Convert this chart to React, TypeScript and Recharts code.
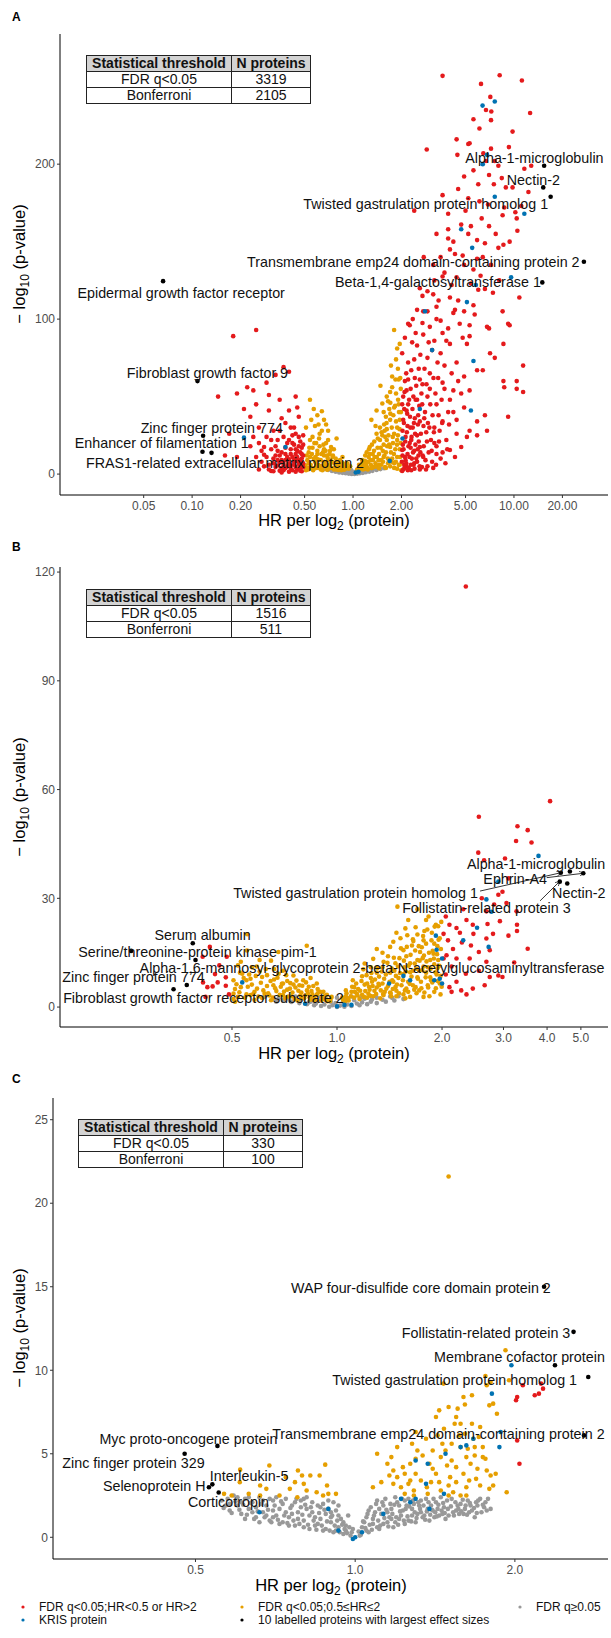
import React from 'react';
import { ScatterChart, Scatter, XAxis, YAxis, ReferenceLine } from 'recharts';

const FONT = '"Liberation Sans", Arial, Helvetica, sans-serif';
const RED = '#E41A1C';
const ORANGE = '#E69F00';
const BLUE = '#0072B2';
const GRAY = '#999999';
const BLACK = '#000000';

// ---------- panel A: HR, -log10 p ----------
const aGray = [[0.62,4],[0.66,3.2],[0.7,2.6],[0.74,2],[0.78,1.5],[0.82,1.1],[0.86,0.8],[0.9,0.5],[0.94,0.3],[0.98,0.1],[1.02,0.1],[1.06,0.3],[1.1,0.5],[1.15,0.8],[1.2,1.2],[1.26,1.6],[1.32,2.1],[1.4,2.6],[1.48,3.2],[1.56,3.8],[0.68,4.1],[0.75,3.5],[0.8,3],[0.85,2.4],[0.9,2],[0.95,1.6],[1,1.4],[1.05,1.5],[1.1,1.9],[1.17,2.4],[1.25,3],[1.35,3.6],[0.88,3.4],[0.97,2.8],[1.08,3],[1.2,3.5]];
const aOrange = [[0.54,48],[0.64,40.5],[0.68,32],[0.79,23],[0.58,31],[0.62,26],[0.73,17.5],[0.86,11],[0.6,13],[0.65,5],[0.54,22],[0.52,9],[0.79,7],[0.96,5],[0.56,17],[0.58,8],[0.62,18],[0.66,12],[0.7,9],[0.75,12],[0.82,7],[0.7,22],[0.55,35],[0.64,28],[0.53,14],[0.57,3.5],[0.61,6],[0.68,4.5],[0.72,6],[0.77,4],[0.84,4],[0.9,3.5],[0.92,7],[0.51,30],[0.59,20],[0.66,16],[0.52,4],[0.54,11],
  [0.51,2.5],[0.53,7],[0.55,4],[0.57,10],[0.59,6],[0.6,15],[0.63,3],[0.63,9],[0.65,14],[0.67,7],[0.69,2.8],[0.69,12],[0.71,4],[0.72,15],[0.74,8],[0.76,3],[0.78,10],[0.8,5],[0.81,2.6],[0.83,9],[0.86,5.5],[0.88,2.8],[0.91,4.8],[0.94,3.5],[0.56,24],[0.61,32],[0.6,38],[0.68,20],[0.76,16],[0.57,42],[0.66,35],[0.7,28],
  [0.505,5.5],[0.515,12],[0.525,3],[0.535,17],[0.545,6],[0.555,13],[0.565,2.5],[0.575,20],[0.585,11],[0.595,4],[0.605,9.5],[0.615,23],[0.625,5],[0.635,13],[0.645,2.5],[0.655,19],[0.665,8],[0.675,15],[0.685,6],[0.695,10.5],[0.705,3.5],[0.715,13],[0.725,8.5],[0.735,4],[0.745,11],[0.765,7],[0.785,3],[0.805,8],[0.825,5],[0.845,2.5],[0.865,7],[0.895,5],
  [1.8,93],[1.88,81],[1.72,70],[1.75,63],[1.92,61],[1.48,57],[1.7,53],[1.62,50],[1.4,41],[1.52,45.5],[1.8,43],[1.3,35],[1.56,32],[1.7,35],[1.4,26],[1.62,22],[1.88,30],[1.27,17.5],[1.45,13],[1.7,17.5],[1.88,11],[1.21,7],[1.4,5],[1.7,5],[1.88,22],[1.8,26],[1.1,4.5],[1.15,7],[1.25,11],[1.33,9],[1.35,15],[1.5,9],[1.55,19],[1.6,14],[1.65,7],[1.75,10],[1.8,4],[1.95,6],[1.95,16],[1.52,25],[1.62,29],[1.78,38],[1.92,45],[1.68,42],[1.85,52],[1.95,35],[1.3,4],[1.2,3.5],[1.45,3.8],[1.58,4.5],[1.9,68],[1.6,37],[1.47,30],
  [1.06,3],[1.09,6],[1.12,3.5],[1.14,9],[1.17,5],[1.19,12],[1.22,4.5],[1.24,8],[1.27,13],[1.29,6],[1.31,19],[1.34,4.5],[1.36,11],[1.38,7],[1.42,17],[1.44,9],[1.47,22],[1.5,6],[1.53,15],[1.55,11],[1.57,28],[1.6,4],[1.63,18],[1.66,25],[1.68,9],[1.72,14],[1.74,30],[1.77,20],[1.8,7],[1.83,16],[1.85,34],[1.88,3.5],[1.9,25],[1.93,40],[1.96,11],[1.98,55],[1.55,40],[1.65,47],[1.75,56],[1.85,74],[1.95,84],[1.38,31],
  [1.075,2.5],[1.105,5],[1.135,6.5],[1.155,3],[1.185,8.5],[1.215,14],[1.235,3],[1.255,16],[1.285,9],[1.305,4],[1.325,13],[1.355,21],[1.375,5],[1.405,11],[1.425,23],[1.455,6],[1.485,17],[1.505,27],[1.535,8],[1.565,12],[1.585,24],[1.615,33],[1.645,10],[1.675,19],[1.705,39],[1.735,8],[1.765,24],[1.795,13],[1.825,44],[1.845,8],[1.875,19],[1.905,48],[1.925,6],[1.945,29],[1.975,20],[1.99,2.5],[1.985,40],[1.965,62],[1.835,61],[1.705,46]];
const aRed = [[3.6,257],[8.15,257.4],[6.24,251.8],[11.2,254],[7.13,243.4],[6.7,235],[7.23,234],[12.6,233],[7.2,228.4],[4.4,216],[5.3,213.5],
  [2.87,209.5],[5.2,213],[4.45,206],[6.45,207],[7.2,210],[9.3,211],[6.7,202],[7.6,202],[8,199],[7,193],[8.4,191],[11.6,197],[12.8,199],[6,187],[7.5,187],[4.5,184],[9.8,185],[12.3,182],[5.2,178],[6.1,176],[5,170],[3.9,168],[2.4,170],[6.9,174],[8.7,172],[10.2,169],[11.1,173],[10.4,165],[8.5,167],[4.7,161],[3.9,158],[7,160],[3.9,152],[5.9,151],[6.6,149],[9.4,150],[10.5,157],[4,145],[8,146],[8.6,148],[4.3,142],[4.8,141],[5.9,139],[3.15,135],[3.7,130],[4.4,127],[3.6,127.5],[5.4,123],[6,119],[6.6,119.5],[7.4,117],[8.5,105],[10.8,114],[2.7,115],[3.15,116],[3.4,112],[4,114],[4.3,106],[4.9,105],[5.7,103],[2.5,106],[2.9,105],[2.2,97],[3.5,99],[5.3,96],[7,94],[9.2,97],
  [2.73,105],[3.3,108],[4.2,104],[5.6,109],[2.25,96],[2.7,97.5],[3,95],[3.6,91],[4.6,97],[5.3,89],[2.45,91],[2.73,90],[3.2,86],[4,84],[5.1,84],[2.02,78],[2.4,74],[2.9,75],[3.5,78],[4.4,72],[5.9,67],[6.8,95],[9.4,96],[8.6,84],[11.4,70],[10.4,60],[11.4,53],[8.6,60],[8.7,56],[10.4,55],[9.2,37],[6.6,38],[7.6,75],[6.4,67],[7.1,78],[2.3,67],[2.6,61],[3,65],[3.6,59],[4.2,54],[4.9,63],[5.3,54],[2.15,54],[2.45,48],[2.9,50],[3.3,45],[4,48],[4.9,43],[5.9,34],[5.3,28],[4.4,26],[3.6,34],[3.2,30],[2.6,34],[2.15,41],[2.03,28],[2.3,22],[2.6,17.5],[3.2,20],[3.8,22],[4.7,17.5],[5.1,24],[2.1,11],[2.4,7],[2.73,11],[3.3,13],[4,15.5],[2.9,5],[2.15,5],[2.02,15.5],[5.9,25],[6.8,28],
  [2.05,35],[2.2,45],[2.35,30],[2.5,25],[2.8,40],[3,55],[2.1,60],[2.25,20],[2.55,12],[2.85,27],[3.4,38],[3.9,40],[2.05,3],[2.3,2.5],[2.6,3],[3.1,8],[3.5,10],[2.4,15],[2.7,58],[2.2,72],[2.05,50],[3.7,70],[4.5,60],[3.1,80],[2.5,83],[4.8,88],[2.35,100],[3.9,94],[4.5,112],[2.6,120],[3.2,125],[5.6,132],[6.4,140],[7.7,155],[5.4,160],[6.3,165],
  [2.02,2],[2.08,6],[2.12,9],[2.18,13],[2.22,4],[2.28,17],[2.32,10],[2.38,6],[2.44,19],[2.5,8],[2.56,21],[2.62,14],[2.68,4.5],[2.75,18],[2.82,9],[2.95,14],[3.05,22],[3.15,4],[3.3,18],[3.45,28],[3.6,14],[3.75,7],[2.04,19],[2.12,24],[2.18,31],[2.26,37],[2.34,42],[2.42,36],[2.5,48],[2.58,44],[2.66,52],[2.74,31],[2.92,33],[3.02,45],[3.12,38],[3.25,52],[3.38,62],[3.55,48],[3.7,55],[3.95,32],[4.2,40],[4.4,35],[2.08,42],[2.14,65],[2.28,55],[2.42,62],[2.56,68],[2.62,77],[2.78,68],[2.95,85],[3.35,72],[4.1,65],[4.7,52],[3.8,86],[2.33,85],[2.1,88],[3.3,100],[2.9,118],[4.1,122],[3.5,140],[4.9,135],[4.2,150],[2.75,140],[3.3,155],[5.2,155],[6.2,128],[7.2,135],[8.1,125],[3.6,180],[4.9,192],[5.6,196],[6.1,223],[8.9,185],[9.8,221],[5.6,229],
  [2.01,8],[2.03,12],[2.06,16],[2.09,4],[2.11,21],[2.14,7],[2.16,27],[2.19,2.5],[2.21,18],[2.24,11],[2.27,30],[2.29,6],[2.31,24],[2.36,14],[2.39,33],[2.41,3.5],[2.43,26],[2.47,10],[2.52,16],[2.54,38],[2.59,5],[2.64,26],[2.71,12],[2.77,36],[2.84,3],[2.88,21],[2.98,30],[3.08,15],[3.18,27],[3.28,6],[3.42,21],[3.58,33],[3.85,16],[4.3,11],[2.07,33],[2.17,39],[2.23,48],[2.37,50],[2.47,57],[2.53,32],[2.69,45],[2.86,58],[3.16,62],[2.02,45],[2.09,53],[2.2,61],
  [0.18,89],[0.25,93],[0.37,69],[0.4,66],[0.33,64],[0.29,59],[0.22,56],[0.19,52],[0.24,54],[0.145,50],[0.3,51],[0.35,48],[0.44,50],[0.25,45],[0.21,42],[0.3,41],[0.4,41],[0.36,36],[0.23,37],[0.17,26],[0.16,12],[0.19,11],[0.24,24],[0.28,17.5],[0.29,11],[0.34,22],[0.41,30],[0.44,13],[0.38,9],[0.46,37],[0.32,28],[0.26,30],[0.4,22],[0.44,26],[0.48,17],[0.35,12],[0.4,7],[0.48,5],[0.28,12.5],[0.32,7],[0.42,11],[0.38,17],[0.31,22],[0.45,3],[0.36,4],[0.27,8],[0.47,9],[0.43,19],[0.49,25],
  [0.31,2],[0.33,4.5],[0.35,7.5],[0.37,2.5],[0.39,5],[0.41,3.5],[0.43,6],[0.45,8.5],[0.47,4],[0.49,7],[0.3,6],[0.32,10],[0.34,15],[0.36,9],[0.38,13],[0.39,20],[0.41,16],[0.43,10],[0.45,15],[0.47,21],[0.49,12],[0.46,18],[0.42,25],[0.37,24],[0.33,18],[0.29,24],[0.27,15],[0.25,11],[0.23,18],[0.26,20],[0.44,1.5],[0.48,1.8],[0.4,1.5],[0.36,1],[0.47,14],[0.43,30],[0.38,33],[0.45,43],[0.35,28],
  [0.3,3],[0.32,1.8],[0.34,5.5],[0.35,2.2],[0.37,6.5],[0.38,3.8],[0.4,9.5],[0.41,5.5],[0.42,2.5],[0.43,8],[0.44,4.5],[0.45,11],[0.46,6.5],[0.47,2.2],[0.48,10],[0.49,4.5],[0.46,24],[0.42,20],[0.39,11],[0.36,14],[0.33,12],[0.31,16],[0.28,5],[0.26,3],[0.34,9],[0.48,13],[0.49,19],[0.44,16],[0.41,13]];
const aBlue = [[0.21,23.5],[0.38,17.5],[1.04,1],[1.08,1.5],[1.69,8.5],[2.03,23],[2.6,42],[3.1,80],[5.6,73],[5.4,41],[2.8,105],[5.1,111],[6.8,206],[6.4,200],[7.6,179],[11.6,168],[4.7,158],[5.5,146],[9.6,127],[5.8,122],[7.6,240.4],[6.38,237.8]];
const aBlack = [[0.066,124.5],[0.108,60],[0.117,24.7],[0.116,14.4],[0.132,13.7],[15.4,199],[15.2,185],[16.9,179],[27.2,137],[15,123.7]];
const aLabels: [string, number, number][] = [
  ['Epidermal growth factor receptor', 0.0855, 116.6],
  ['Fibroblast growth factor 9', 0.1245, 65.4],
  ['Zinc finger protein 774', 0.1325, 29.9],
  ['Enhancer of filamentation 1', 0.0648, 19.8],
  ['FRAS1-related extracellular matrix protein 2', 0.16, 7.3],
  ['Alpha-1-microglobulin', 13.4, 203.7],
  ['Nectin-2', 13.2, 190],
  ['Twisted gastrulation protein homolog 1', 2.83, 174.2],
  ['Transmembrane emp24 domain-containing protein 2', 2.37, 136.9],
  ['Beta-1,4-galactosyltransferase 1', 3.37, 123.7],
];

// ---------- panel B ----------
const bGray = [[0.66,2.2],[0.7,1.8],[0.74,1.4],[0.78,1.1],[0.82,0.8],[0.86,0.5],[0.9,0.3],[0.95,0.1],[1,0],[1.05,0.1],[1.1,0.3],[1.16,0.5],[1.22,0.8],[1.3,1.1],[1.38,1.5],[1.46,1.8],[1.55,2.2],[0.72,2.6],[0.8,2.4],[0.88,1.9],[0.96,1.5],[1.04,1.5],[1.12,1.9],[1.2,2.3],[1.3,2.6],[1.42,2.9],[0.9,2.8],[1,2.6],[1.1,2.9],[0.84,1.5],[1.18,1.3],[0.76,2.9],[1.5,3],[0.62,2.8],
  [0.68,2.4],[0.73,2],[0.78,1.8],[0.83,1.3],[0.87,1],[0.92,0.7],[0.97,0.5],[1.02,0.4],[1.07,0.7],[1.14,1],[1.25,1.5],[1.35,2],[1.44,2.5],[0.93,2.2],[1.06,2.2],[1.17,2.6],[1.26,2.1],[0.99,1.1],[0.84,2.6],[0.67,1.5]];
const bOrange = [[1.49,27.7],[0.553,20.1],[0.819,16.9],[0.679,15.2],[0.647,12.8],[0.552,15.6],[1.57,21.7],[1.48,20.5],[1.92,22.7],[1.95,22.3],[1.65,18.7],[1.77,18.4],[1.9,17.5],[1.42,16.6],[1.55,15.7],[1.73,15.2],[1.89,14.7],[1.27,13.3],[1.36,12.5],[1.47,12.1],[1.62,12.1],[1.77,11.2],[1.94,10.7],[1.19,10.4],[1.3,9.5],[1.42,9.5],[1.55,9.1],[1.7,8.2],[1.86,7.4],[1.97,6.5],[1.11,7.4],[1.22,6.5],[1.32,6],[1.47,5.5],[1.58,5.1],[1.72,4.6],[1.9,4.2],[1.06,4.6],[1.14,3.7],[1.23,3.7],[1.36,3.3],[1.48,3],[1.62,2.8],[1.77,2.8],
  [0.589,11.2],[0.527,9.5],[0.505,7.4],[0.55,7.4],[0.61,8.3],[0.68,9.2],[0.75,8.7],[0.8,7.4],[0.875,6.5],[0.53,5.5],[0.59,5.1],[0.657,6],[0.733,5.1],[0.82,4.6],[0.914,4.2],[0.565,3.3],[0.62,3.7],[0.7,3.3],[0.79,2.8],[0.505,3.7],[0.914,2.3],[0.647,1.9],
  [1.25,8],[1.35,11],[1.45,7],[1.6,7],[1.65,10],[1.8,9.5],[1.85,13],[1.4,14],[1.7,13],[1.52,19],[1.6,24],[1.78,21],[1.83,25],[1.7,27],[1.12,5.5],[1.18,8.5],[1.28,4.5],[1.42,4],[1.55,3.5],[1.68,5.5],[1.82,6],[1.98,3.5],[1.93,9],[1.75,16.5],[1.2,12],[1.3,16],
  [0.56,9],[0.6,13],[0.66,10.5],[0.7,6.5],[0.75,6.2],[0.85,3.5],[0.88,5],[0.52,11.5],[0.51,1.5],[0.58,2],
  [0.51,5],[0.52,2.8],[0.54,8],[0.55,3.5],[0.57,6.2],[0.58,4.2],[0.6,9.8],[0.61,2.5],[0.63,5.8],[0.64,3.2],[0.66,7.6],[0.67,4.4],[0.69,5.6],[0.71,2.4],[0.72,4.8],[0.74,3],[0.76,5.4],[0.77,1.8],[0.79,4],[0.81,3.2],[0.83,5.6],[0.84,2],[0.86,2.6],[0.88,3.8],[0.9,1.8],[0.92,3],[0.94,1.6],[0.96,2.4],[0.53,12.5],[0.57,11],[0.63,8.8],[0.7,10],[0.72,7.2],[0.78,6],[0.84,8],
  [0.505,2.2],[0.515,6.3],[0.525,4.1],[0.535,9.2],[0.545,2.6],[0.555,5.6],[0.565,7.8],[0.575,3.6],[0.585,8.6],[0.595,2.9],[0.605,6.7],[0.615,4.6],[0.625,10.5],[0.635,3.8],[0.645,7.2],[0.655,2.6],[0.665,5.2],[0.675,8.1],[0.685,3.4],[0.695,6.4],[0.705,4.3],[0.715,8.8],[0.725,2.9],[0.735,6.6],[0.745,4],[0.755,2.2],[0.765,7.3],[0.775,4.5],[0.785,3.2],[0.795,5.9],[0.805,2.4],[0.815,6.8],[0.825,3.7],[0.835,2.7],[0.845,4.4],[0.855,5.8],[0.865,1.9],[0.875,3.3],[0.895,4.2],[0.905,2.7],[0.925,2],[0.935,3.4],[0.955,1.7],[0.965,2.8],
  [1.04,2],[1.06,3],[1.08,1.8],[1.1,4.2],[1.12,2.6],[1.15,5],[1.16,2.2],[1.18,3.4],[1.2,6.2],[1.22,2.6],[1.24,4.8],[1.26,7],[1.27,3],[1.3,5.4],[1.32,8.4],[1.33,2.4],[1.35,6.5],[1.37,4.2],[1.38,9],[1.4,5.8],[1.43,3],[1.44,7.4],[1.46,10],[1.48,4.5],[1.5,8],[1.51,13.5],[1.53,6],[1.56,11],[1.57,2.4],[1.58,14],[1.6,4.2],[1.62,9.6],[1.64,17],[1.65,6],[1.67,12],[1.69,3.8],[1.7,20],[1.72,10],[1.74,7],[1.76,13.5],[1.78,4],[1.8,17.5],[1.82,11],[1.84,3],[1.85,8.2],[1.87,20.5],[1.88,15.5],[1.9,11.8],[1.92,5.2],[1.94,16.8],[1.95,13],[1.97,19],[1.98,8.6],[1.99,23.5],[1.45,18],[1.35,15],[1.25,11],[1.59,19.8],[1.68,22],[1.8,24],
  [1.035,2.6],[1.055,1.6],[1.065,3.8],[1.075,2.4],[1.095,3],[1.105,5.6],[1.125,4.2],[1.135,6.5],[1.145,3.2],[1.165,4.5],[1.175,7.2],[1.195,2.8],[1.205,4.4],[1.215,8.8],[1.235,5.6],[1.245,3.1],[1.255,9.4],[1.265,5.8],[1.285,7.6],[1.295,3.6],[1.305,10.8],[1.315,6.4],[1.335,4.6],[1.345,9.8],[1.355,3.6],[1.365,7.8],[1.385,5.1],[1.395,12.2],[1.415,7],[1.425,3.8],[1.435,10.6],[1.445,5],[1.455,13.6],[1.475,8.6],[1.485,6.2],[1.495,11.2],[1.505,3.8],[1.515,9.4],[1.525,16.2],[1.545,7.4],[1.555,12.8],[1.565,4.6],[1.575,9.8],[1.585,16.6],[1.605,11.4],[1.615,6.4],[1.625,14.4],[1.635,8.4],[1.655,18.2],[1.665,4.8],[1.675,15.6],[1.685,10.6],[1.705,7.8],[1.715,16.8],[1.725,12.8],[1.745,5.2],[1.755,10.2],[1.765,19.6],[1.775,14.2],[1.795,8.2],[1.805,12.6],[1.815,21.4],[1.825,5.4],[1.835,15],[1.855,10.6],[1.865,18.4],[1.875,6.8],[1.895,13.4],[1.905,22.2],[1.915,9.6],[1.935,14.6],[1.945,7.2],[1.955,18.6],[1.965,11.4],[1.985,16],[1.995,5.6]];
const bRed = [[2.34,116],[4.08,56.8],[2.55,52.5],[3.29,49.9],[3.52,48.8],[3.26,45.8],[3.61,45.4],[2.54,42.6],[3.03,41],[2.64,40.5],[3.1,35.5],[2.98,31.8],[2.9,31],[3.06,28.7],[2.82,28.3],[3.27,26.4],[2.68,26.4],[2.1,22.7],[2.2,21.8],[2.45,22.7],[2.7,22.9],[2.93,23.7],[3.28,22.7],[3.28,21],[2.02,20.2],[2.25,20.5],[2.46,20.2],[2.8,20.2],[3.1,19.7],[2.08,18.4],[2.28,17.8],[2.68,18.9],[2.42,17],[2.74,15.7],[2.55,15.2],[3.52,16.1],[2.06,14.3],[2.2,13.4],[2.4,13.4],[2.68,12.5],[3.22,12.3],[2.13,11.2],[2.34,9.2],[2.74,8.3],[2.98,8.3],[2.9,8.7],[2.1,5.5],[2.27,4.6],[2.45,5.1],[2.13,4.2],[2.02,13.4],[2.05,9],[2.15,16],[2.35,24],[2.6,30],[2.3,27],[2.05,25],[2.55,10],[2.2,7],[2.65,6],[2.35,3.5],
  [0.412,13.9],[0.483,13.9],[0.447,9.1],[0.48,8.2],[0.413,6.8],[0.425,5.5],[0.44,5.7],[0.455,6.8],[0.48,5.9],[0.432,16.6],[0.42,2.8],[0.46,11.5],[0.49,3.5]];
const bBlue = [[3.78,41.7],[2.68,29.7],[2.9,34.6],[2.77,26.3],[2.52,21.9],[2.3,18.4],[2.72,16.6],[1.92,19.7],[1.93,15.8],[2,13.4],[1.97,7.8],[1.9,7.4],[2,6.5],[1.62,7.4],[1.55,8.6],[1.41,6.5],[0.535,6.8],[0.81,0.9],[1,0.2],[1.05,0.6],[1.1,0.6]];
const bBlack = [[4.38,37.05],[4.65,37.4],[5.08,36.9],[4.35,34.6],[4.57,34.1],[0.386,17.6],[0.257,15.5],[0.393,13],[0.371,6.1],[0.34,4.9]];
const bLabels: [string, number, number][] = [
  ['Alpha-1-microglobulin', 3.72, 39.6],
  ['Ephrin-A4', 3.24, 35.3],
  ['Twisted gastrulation protein homolog 1', 1.13, 31.5],
  ['Nectin-2', 4.93, 31.5],
  ['Follistatin-related protein 3', 2.68, 27.4],
  ['Serum albumin', 0.412, 19.9],
  ['Serine/threonine-protein kinase pim-1', 0.398, 15.3],
  ['Alpha-1,6-mannosyl-glycoprotein 2-beta-N-acetylglucosaminyltransferase', 1.26, 10.8],
  ['Zinc finger protein 774', 0.261, 8.4],
  ['Fibroblast growth factor receptor substrate 2', 0.414, 2.6],
];
const bArrows = [[[2.57,32],[4.38,37.05]],[[3.82,29.3],[4.34,34.6]],[[3.99,35.7],[5.08,36.9]]];

// ---------- panel C ----------
const cGray = [[0.56,2.2],[0.58,1.6],[0.59,2.5],[0.6,1.9],[0.61,1.4],[0.62,2.3],[0.63,1.7],[0.64,2.1],[0.65,1.2],[0.66,2.4],[0.67,1.5],[0.68,1.9],[0.69,1],[0.7,2.2],[0.71,1.3],[0.72,1.7],[0.73,0.9],[0.74,2.3],[0.75,1.2],[0.76,1.9],[0.77,0.7],[0.78,1.5],[0.79,2.2],[0.8,1],[0.81,1.7],[0.82,0.5],[0.83,2.1],[0.84,1.2],[0.85,0.8],[0.86,1.8],[0.87,0.4],[0.88,1.4],[0.89,2.2],[0.9,0.9],[0.91,0.3],[0.92,1.6],[0.93,0.6],[0.94,1.1],[0.95,0.2],[0.96,0.7],[0.97,1.3],[0.98,0.1],[0.99,0.5],[0.57,1.9],[0.6,2.4],[0.64,1.5],[0.67,2.2],[0.7,1.6],[0.73,2],[0.76,1.4],[0.8,2.3],[0.83,1.5],[0.87,2],[0.9,1.5],[0.93,1.9],
  [1.02,0.1],[1.03,0.6],[1.05,1.2],[1.06,0.3],[1.07,1.8],[1.08,0.8],[1.1,2.2],[1.11,0.5],[1.12,1.4],[1.14,2.3],[1.15,0.9],[1.17,1.7],[1.18,0.6],[1.2,2.1],[1.21,1.1],[1.23,1.6],[1.24,0.8],[1.26,2.3],[1.28,1.3],[1.3,0.9],[1.32,1.9],[1.34,1.2],[1.36,2.3],[1.38,1],[1.4,1.6],[1.42,2.1],[1.44,1.3],[1.47,1.8],[1.5,1.3],[1.52,2.3],[1.55,1.6],[1.58,2],[1.6,1.4],[1.63,2.2],[1.66,1.6],[1.7,1.9],[1.73,1.5],[1.76,2.1],[1.8,1.7],[1.72,2.3],[1.68,1.2],[1.09,1.5],[1.13,1.9],[1.16,1.2],[1.19,2.4],[1.25,1.9],[1.29,2],[1.33,1.5],[1.37,1.7],[1.45,2.4],[1.48,1.1],[1.57,1.4],[1.65,1.9],
  [0.58,2],[0.61,2.1],[0.62,1.1],[0.65,1.8],[0.66,0.9],[0.69,2.3],[0.7,1.2],[0.72,0.8],[0.74,1.5],[0.75,0.7],[0.77,2.1],[0.78,1.1],[0.8,0.6],[0.81,2.4],[0.82,1.3],[0.84,0.7],[0.85,1.9],[0.86,1.1],[0.88,0.5],[0.89,1.7],[0.9,1.2],[0.92,0.4],[0.93,1.3],[0.95,0.9],[0.96,0.4],[1.04,0.9],[1.05,0.4],[1.06,1.6],[1.08,1.1],[1.1,0.6],[1.11,1.7],[1.13,0.8],[1.15,1.5],[1.17,1.1],[1.19,0.9],[1.21,1.9],[1.22,1.3],[1.24,2.2],[1.26,1],[1.28,1.7],[1.31,1.4],[1.33,2.2],[1.35,1.3],[1.39,1.9],[1.41,1.2],[1.43,1.7],[1.46,1.4],[1.49,2.2],[1.53,1.5],[1.56,1.9],[1.61,1.7],[1.64,1.5],[1.69,2.1],[1.75,1.8],[1.78,2.3],[0.63,2.4],[0.68,1.3],[0.71,2.4],[0.79,1.8],[0.91,2.1],
  [0.565,1.75],[0.575,2.3],[0.585,1.45],[0.595,2.15],[0.605,1.65],[0.615,1.95],[0.625,1.35],[0.635,2.05],[0.645,1.1],[0.655,1.55],[0.665,2],[0.675,1.2],[0.685,1.65],[0.695,0.9],[0.705,1.9],[0.715,1.05],[0.725,2.15],[0.735,1.3],[0.745,0.85],[0.755,1.75],[0.765,1],[0.775,2.3],[0.785,0.8],[0.795,1.35],[0.805,1.95],[0.815,0.75],[0.825,1.8],[0.835,1],[0.845,0.45],[0.855,1.45],[0.865,0.7],[0.875,1.65],[0.885,0.95],[0.895,0.4],[0.905,1.3],[0.915,0.7],[0.925,1],[0.935,0.3],[0.945,0.75],[0.955,0.5],[0.965,0.25],[0.975,0.6],[0.985,0.3],
  [1.015,0.35],[1.025,0.15],[1.035,0.95],[1.045,0.55],[1.055,1.4],[1.065,0.75],[1.075,0.45],[1.085,1.3],[1.095,2],[1.105,1],[1.115,0.7],[1.125,2.1],[1.135,1.15],[1.145,1.65],[1.155,0.65],[1.165,2],[1.175,1.4],[1.185,1.95],[1.195,1.2],[1.205,0.75],[1.215,1.55],[1.225,2.3],[1.235,1],[1.245,1.7],[1.255,1.25],[1.265,1.85],[1.275,0.95],[1.285,2.2],[1.295,1.5],[1.305,1.15],[1.315,2.1],[1.325,1.7],[1.345,1.9],[1.355,1.05],[1.365,1.55],[1.375,2.1],[1.385,1.35],[1.395,1.65],[1.405,2.3],[1.415,1.5],[1.425,1.25],[1.435,1.95],[1.455,1.6],[1.465,2.05],[1.475,1.45],[1.495,1.7],[1.515,1.85],[1.535,1.3],[1.545,2.1],[1.565,1.7],[1.585,1.55],[1.595,2.25],[1.615,1.9],[1.625,1.35],[1.645,2.05],[1.675,1.75],[1.695,1.45],[1.705,2.2],[1.74,1.95],[1.77,1.6]];
const cOrange = [[1.5,21.6],[1.92,11.2],[1.76,9.66],[1.8,9.3],[1.95,9.4],[1.77,9.1],[1.467,9.2],[1.6,8.4],[1.66,8.5],[1.82,8],[1.79,7.9],[1.61,7.95],[1.5,7.8],[1.56,7.7],[1.85,7.4],[1.42,7.2],[1.54,6.8],[1.58,6.8],[1.66,6.8],[1.72,6.6],[1.47,6.5],[1.61,6.2],[1.67,5.9],[1.52,5.6],[1.58,5.4],[1.68,5.4],[1.74,5.4],[1.4,5.2],[1.48,5.2],[1.31,5.2],[1.45,4.8],[1.62,4.8],[1.74,4.8],[1.76,4.7],[1.68,4.9],[1.3,4.7],[1.27,4.4],[1.38,4.4],[1.49,4.3],[1.55,4.2],[1.65,4.4],[1.18,4],[1.24,3.8],[1.3,3.8],[1.42,3.8],[1.51,3.6],[1.84,3.8],[1.8,3.7],[1.69,3.5],[1.62,3],[1.16,3.7],[1.18,3.2],[1.22,3],[1.29,2.8],[1.365,3],[1.45,2.8],[1.53,2.7],[1.08,3],[1.79,2.9],[1.93,2.7],[1.5,2.5],[1.37,2.6],[1.29,2.5],[1.24,2.6],[1.17,4.8],[1.1,5],[1.3,6.3],[1.62,2.5],[1.58,2.5],
  [1.12,3.3],[1.15,4.4],[1.2,3.6],[1.23,4.2],[1.26,3.2],[1.28,5.6],[1.33,3.4],[1.34,4.9],[1.39,3.3],[1.4,4.1],[1.43,6.1],[1.44,3.3],[1.46,5.6],[1.5,3.1],[1.52,4.6],[1.55,3.3],[1.57,6.1],[1.6,3.8],[1.63,5.3],[1.64,3.4],[1.7,4.1],[1.72,3.1],[1.71,6],[1.77,4],[1.82,3.1],[1.44,7.6],[1.55,7.2],[1.36,5.9],[1.27,3.4],[1.2,5.4],
  [0.607,4.05],[0.689,4.3],[0.878,4.35],[0.794,3.7],[0.823,3.7],[0.857,3.7],[0.77,3.3],[0.8,3.2],[0.885,3.1],[0.606,3.3],[0.662,3.1],[0.68,2.9],[0.753,2.9],[0.81,2.8],[0.846,2.7],[0.89,2.6],[0.92,2.6],[0.566,2.6],[0.585,2.5],[0.63,2.6],[0.662,2.5],[0.72,2.5],[0.778,2.4],[0.87,2.5],[0.74,3.6],[0.78,4]];
const cRed = [[2.24,9.2],[2.07,9.1],[2.26,8.9],[2.18,8.5],[2.22,8.6],[2.02,8.4],[2.01,8.2],[2.02,5.8],[2.04,4.4]];
const cBlue = [[1.97,10.3],[1.81,8.6],[1.88,6.3],[1.87,5.4],[1.67,5.9],[1.62,5.5],[1.58,5.4],[1.48,5],[1.3,4.6],[1.37,4.4],[1.36,3.2],[1.47,2.6],[1.22,2.3],[1.27,2.1],[1.3,2.3],[1.38,1.7],[1.13,1.4],[0.66,1.5],[0.89,1.7],[0.93,0.4],[1.03,0.3],[0.99,-0.1],[1,0]];
const cBlack = [[2.27,15],[2.58,12.3],[2.38,10.3],[2.75,9.6],[2.7,6.1],[0.55,5.47],[0.477,5],[0.53,3],[0.538,3.17],[0.553,2.68]];
const cLabels: [string, number, number][] = [
  ['WAP four-disulfide core domain protein 2', 1.33, 14.95],
  ['Follistatin-related protein 3', 1.765, 12.26],
  ['Membrane cofactor protein', 2.04, 10.8],
  ['Twisted gastrulation protein homolog 1', 1.54, 9.4],
  ['Transmembrane emp24 domain-containing protein 2', 1.435, 6.2],
  ['Myc proto-oncogene protein', 0.485, 5.9],
  ['Zinc finger protein 329', 0.382, 4.45],
  ['Interleukin-5', 0.631, 3.65],
  ['Selenoprotein H', 0.418, 3.05],
  ['Corticotropin', 0.577, 2.1],
];

// tables
const tableA = [['FDR q<0.05', '3319'], ['Bonferroni', '2105']];
const tableB = [['FDR q<0.05', '1516'], ['Bonferroni', '511']];
const tableC = [['FDR q<0.05', '330'], ['Bonferroni', '100']];

const legendItems = [
  { label: 'FDR q<0.05;HR<0.5 or HR>2', color: RED, col: 0, row: 0 },
  { label: 'FDR q<0.05;0.5≤HR≤2', color: ORANGE, col: 1, row: 0 },
  { label: 'FDR q≥0.05', color: GRAY, col: 2, row: 0 },
  { label: 'KRIS protein', color: BLUE, col: 0, row: 1 },
  { label: '10 labelled proteins with largest effect sizes', color: BLACK, col: 1, row: 1 },
];

const pts = (a: number[][]) => a.map(([x, y]) => ({ x, y }));
const lbls = (a: [string, number, number][]) => a.map(([name, x, y]) => ({ name, x, y }));

const dot = (color: string, r = 2.3) => (p: any) =>
  p.cx == null ? <g /> : <circle cx={p.cx} cy={p.cy} r={r} fill={color} />;

const labelShape = (p: any) =>
  p.cx == null ? <g /> : (
    <text x={p.cx} y={p.cy} textAnchor="middle" dominantBaseline="central" fontSize={14.3} fontFamily={FONT} fill="#111">
      {p.payload.name}
    </text>
  );

function Volcano(props: any) {
  const { top, height, marginTop, yWidth, xHeight, xDomain, xTicks, xDigits, yDomain, yTicks,
    gray, orange, red, blue, black, labels, arrows } = props;
  const tickStyle = { fill: '#4D4D4D', fontSize: 12, fontFamily: FONT };
  return (
    <div style={{ position: 'absolute', left: 0, top }}>
      <ScatterChart width={611} height={height} margin={{ top: marginTop, right: 3, bottom: 0, left: 0 }}>
        <XAxis type="number" dataKey="x" scale="log" domain={xDomain} allowDataOverflow ticks={xTicks} interval={0}
          tickFormatter={(v: number) => v.toFixed(xDigits)} height={xHeight} tickSize={3} tickMargin={3}
          tick={tickStyle} tickLine={{ stroke: '#333' }} axisLine={{ stroke: '#000' }} />
        <YAxis type="number" dataKey="y" domain={yDomain} allowDataOverflow ticks={yTicks} interval={0}
          width={yWidth} tickSize={3} tickMargin={2}
          tick={tickStyle} tickLine={{ stroke: '#333' }} axisLine={{ stroke: '#000' }} />
        <Scatter data={pts(gray)} shape={dot(GRAY)} isAnimationActive={false} />
        <Scatter data={pts(orange)} shape={dot(ORANGE)} isAnimationActive={false} />
        <Scatter data={pts(red)} shape={dot(RED)} isAnimationActive={false} />
        <Scatter data={pts(blue)} shape={dot(BLUE)} isAnimationActive={false} />
        <Scatter data={pts(black)} shape={dot(BLACK)} isAnimationActive={false} />
        {(arrows || []).map((s: number[][], i: number) => (
          <ReferenceLine key={i} segment={[{ x: s[0][0], y: s[0][1] }, { x: s[1][0], y: s[1][1] }]}
            stroke="#000" strokeWidth={0.8} ifOverflow="visible" markerEnd="url(#arrowHead)" />
        ))}
        <Scatter data={lbls(labels)} shape={labelShape} isAnimationActive={false} />
      </ScatterChart>
    </div>
  );
}

function StatTable({ left, top, rows, firstCol }: { left: number; top: number; rows: string[][]; firstCol: number }) {
  const cell: React.CSSProperties = { border: '1px solid #222', padding: 0, height: 15, lineHeight: '15px', textAlign: 'center' };
  return (
    <table style={{ position: 'absolute', left, top, borderCollapse: 'collapse', fontFamily: FONT, fontSize: 14, color: '#111', border: '1.5px solid #111' }}>
      <tbody>
        <tr style={{ background: '#D3D3D3', fontWeight: 'bold' }}>
          <td style={{ ...cell, width: firstCol }}>Statistical threshold</td>
          <td style={{ ...cell, width: 78 }}>N proteins</td>
        </tr>
        {rows.map((r, i) => (
          <tr key={i}>
            <td style={cell}>{r[0]}</td>
            <td style={cell}>{r[1]}</td>
          </tr>
        ))}
      </tbody>
    </table>
  );
}

function XTitle({ x, y }: { x: number; y: number }) {
  return (
    <text x={x} y={y} textAnchor="middle" fontSize={16.5} fontFamily={FONT} fill="#000">
      HR per  log<tspan fontSize={12} dy={4}>2</tspan><tspan dy={-4}> (protein)</tspan>
    </text>
  );
}

function YTitle({ x, y }: { x: number; y: number }) {
  return (
    <text x={x} y={y} transform={`rotate(-90 ${x} ${y})`} textAnchor="middle" fontSize={16.5} fontFamily={FONT} fill="#000">
      − log<tspan fontSize={12} dy={4}>10</tspan><tspan dy={-4}> (p-value)</tspan>
    </text>
  );
}

export default function App() {
  return (
    <div style={{ position: 'absolute', left: 0, top: 0, width: 611, height: 1638, background: '#fff', fontFamily: FONT }}>
      <svg width={0} height={0} style={{ position: 'absolute' }}>
        <defs>
          <marker id="arrowHead" markerWidth={6} markerHeight={6} refX={5} refY={3} orient="auto">
            <path d="M0,0 L6,3 L0,6" fill="none" stroke="#000" strokeWidth={0.8} />
          </marker>
        </defs>
      </svg>
      <Volcano top={0} height={540} marginTop={34} yWidth={60} xHeight={45}
        xDomain={[0.0151, 38.4]} xTicks={[0.05, 0.1, 0.2, 0.5, 1, 2, 5, 10, 20]} xDigits={2}
        yDomain={[-13.5, 284]} yTicks={[0, 100, 200]}
        gray={aGray} orange={aOrange} red={aRed} blue={aBlue} black={aBlack} labels={aLabels} />
      <Volcano top={540} height={535} marginTop={27} yWidth={60} xHeight={48}
        xDomain={[0.1607, 5.98]} xTicks={[0.5, 1, 2, 3, 4, 5]} xDigits={1}
        yDomain={[-5.5, 121.4]} yTicks={[0, 30, 60, 90, 120]}
        gray={bGray} orange={bOrange} red={bRed} blue={bBlue} black={bBlack} labels={bLabels} arrows={bArrows} />
      <Volcano top={1075} height={525} marginTop={23} yWidth={53} xHeight={41}
        xDomain={[0.2694, 2.996]} xTicks={[0.5, 1, 2]} xDigits={1}
        yDomain={[-1.3, 26.3]} yTicks={[0, 5, 10, 15, 20, 25]}
        gray={cGray} orange={cOrange} red={cRed} blue={cBlue} black={cBlack} labels={cLabels} />

      <StatTable left={86} top={55} rows={tableA} firstCol={144} />
      <StatTable left={86} top={589} rows={tableB} firstCol={144} />
      <StatTable left={78} top={1119} rows={tableC} firstCol={144} />

      <svg width={611} height={1638} style={{ position: 'absolute', left: 0, top: 0, pointerEvents: 'none' }}>
        <text x={12} y={21} fontSize={12} fontWeight="bold" fontFamily={FONT}>A</text>
        <text x={12} y={551} fontSize={12} fontWeight="bold" fontFamily={FONT}>B</text>
        <text x={12} y={1083} fontSize={12} fontWeight="bold" fontFamily={FONT}>C</text>
        <XTitle x={334} y={526} />
        <XTitle x={334} y={1059} />
        <XTitle x={331} y={1591} />
        <YTitle x={25} y={264} />
        <YTitle x={25} y={797} />
        <YTitle x={25} y={1328} />
        {legendItems.map((it, i) => {
          const x = [23, 242, 520][it.col];
          const y = [1607, 1620][it.row];
          return (
            <g key={i}>
              <circle cx={x} cy={y} r={1.6} fill={it.color} />
              <text x={x + 16} y={y} dominantBaseline="central" fontSize={12} fontFamily={FONT} fill="#111">{it.label}</text>
            </g>
          );
        })}
      </svg>
    </div>
  );
}
